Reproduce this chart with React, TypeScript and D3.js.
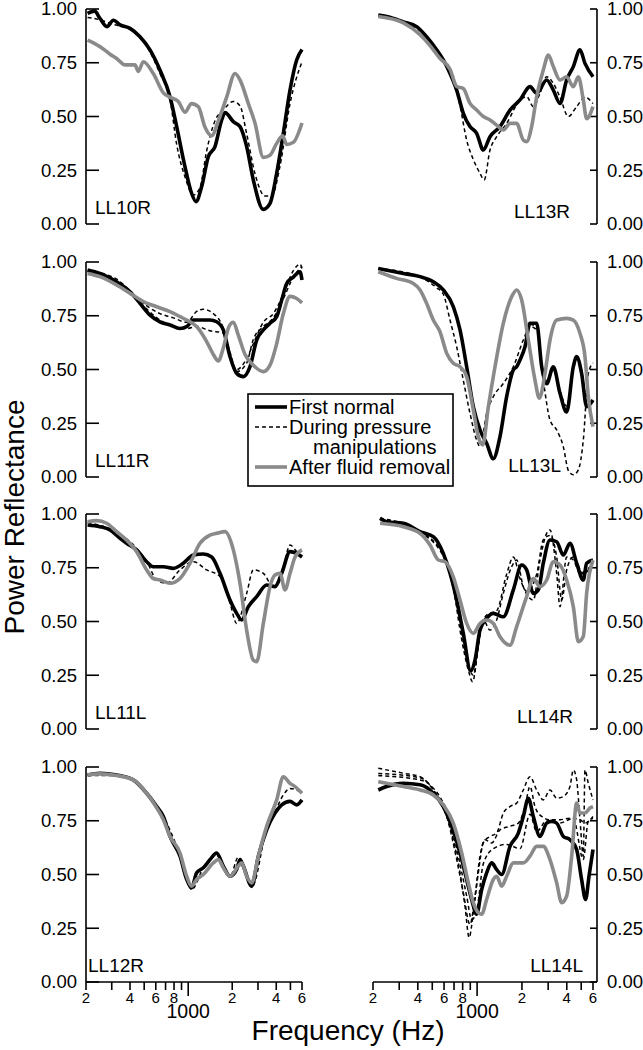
import React from "react";
import * as d3 from "d3";

type P = [number, number];

// ---------- axis ticks ----------
const FREQ_TICKS = [200, 300, 400, 500, 600, 700, 800, 900, 1000, 2000, 3000, 4000, 5000, 6000];
const FREQ_TICK_LABELS = ["2", "", "4", "", "6", "", "8", "", "", "2", "", "4", "", "6"];
const Y_TICKS = [0, 0.25, 0.5, 0.75, 1];
const Y_TICK_LABELS = ["0.00", "0.25", "0.50", "0.75", "1.00"];

// ---------- data: [frequency Hz, power reflectance] ----------
const LL10R_first: P[] = [[205,0.98],[229,0.99],[249,0.957],[278,0.918],[308,0.948],[342,0.926],[400,0.91],[468,0.871],[548,0.81],[641,0.716],[751,0.592],[834,0.453],[950,0.267],[1055,0.143],[1130,0.104],[1236,0.174],[1372,0.313],[1525,0.36],[1694,0.484],[1785,0.518],[2035,0.476],[2260,0.453],[2510,0.36],[2788,0.205],[3264,0.068],[3626,0.096],[4027,0.236],[4473,0.422],[4968,0.623],[5518,0.763],[6000,0.812]];
const LL10R_during: P[] = [[205,0.96],[249,0.95],[300,0.93],[400,0.905],[548,0.8],[641,0.7],[751,0.58],[834,0.37],[950,0.22],[1084,0.135],[1204,0.17],[1337,0.34],[1525,0.48],[1738,0.53],[2035,0.57],[2260,0.55],[2510,0.42],[2860,0.235],[3350,0.13],[3720,0.13],[4244,0.27],[4968,0.56],[6000,0.755]];
const LL10R_after: P[] = [[205,0.855],[249,0.825],[292,0.79],[324,0.77],[370,0.74],[432,0.74],[456,0.71],[493,0.755],[577,0.7],[676,0.61],[751,0.59],[856,0.57],[950,0.52],[1055,0.56],[1173,0.545],[1303,0.45],[1447,0.41],[1607,0.48],[1832,0.59],[2090,0.7],[2260,0.67],[2578,0.56],[2860,0.47],[3264,0.31],[3626,0.32],[4027,0.375],[4425,0.41],[4714,0.37],[5236,0.38],[6000,0.47]];

const LL13R_first: P[] = [[217,0.972],[247,0.965],[320,0.94],[393,0.918],[458,0.871],[535,0.81],[593,0.763],[658,0.7],[729,0.623],[808,0.515],[896,0.453],[993,0.422],[1101,0.344],[1221,0.406],[1425,0.453],[1663,0.53],[1941,0.577],[2265,0.639],[2511,0.608],[2931,0.67],[3249,0.623],[3602,0.561],[3993,0.67],[4426,0.732],[4906,0.81],[5300,0.747],[6000,0.685]];
const LL13R_during: P[] = [[217,0.97],[247,0.96],[320,0.935],[393,0.91],[458,0.87],[535,0.8],[593,0.76],[658,0.7],[729,0.62],[768,0.55],[851,0.39],[943,0.3],[1046,0.236],[1115,0.205],[1221,0.344],[1353,0.406],[1579,0.468],[1941,0.577],[2151,0.592],[2385,0.546],[2644,0.608],[2931,0.685],[3249,0.654],[3602,0.59],[4100,0.5],[4660,0.546],[5300,0.59],[6000,0.56]];
const LL13R_after: P[] = [[217,0.965],[320,0.935],[414,0.88],[483,0.83],[563,0.77],[658,0.72],[729,0.64],[808,0.63],[896,0.561],[993,0.53],[1101,0.5],[1221,0.484],[1353,0.46],[1500,0.437],[1663,0.468],[1843,0.468],[2043,0.39],[2151,0.383],[2324,0.453],[2511,0.592],[2783,0.716],[3010,0.786],[3249,0.732],[3602,0.67],[3993,0.685],[4426,0.639],[4783,0.685],[5165,0.577],[5438,0.49],[6000,0.546]];

const LL11R_first: P[] = [[205,0.963],[249,0.947],[324,0.908],[400,0.862],[468,0.808],[548,0.753],[641,0.722],[751,0.707],[879,0.691],[976,0.699],[1084,0.73],[1204,0.73],[1409,0.73],[1565,0.722],[1738,0.684],[1931,0.56],[2145,0.482],[2382,0.467],[2646,0.513],[2939,0.637],[3264,0.684],[3626,0.715],[4027,0.746],[4360,0.823],[4714,0.9],[5236,0.93],[5815,0.955],[6000,0.916]];
const LL11R_during: P[] = [[205,0.96],[324,0.92],[468,0.82],[641,0.76],[791,0.74],[976,0.72],[1142,0.77],[1269,0.78],[1485,0.76],[1738,0.69],[1931,0.56],[2145,0.5],[2510,0.55],[2788,0.62],[3264,0.72],[3821,0.76],[4473,0.85],[5236,0.96],[5815,0.99],[6000,0.97]];
const LL11R_during2: P[] = [[205,0.955],[324,0.91],[468,0.81],[641,0.73],[791,0.7],[976,0.69],[1142,0.7],[1409,0.68],[1738,0.67],[1931,0.58],[2145,0.49],[2510,0.53],[2788,0.64],[3264,0.7],[3821,0.74],[4473,0.83],[5236,0.93],[6000,0.98]];
const LL11R_after: P[] = [[205,0.947],[249,0.932],[324,0.893],[400,0.854],[493,0.816],[609,0.792],[751,0.769],[879,0.746],[976,0.73],[1142,0.7],[1337,0.63],[1485,0.57],[1607,0.54],[1738,0.6],[1900,0.7],[2035,0.72],[2200,0.66],[2446,0.57],[2788,0.52],[3264,0.49],[3626,0.52],[4027,0.62],[4473,0.76],[4968,0.84],[5518,0.83],[6000,0.81]];

const LL13L_first: P[] = [[217,0.97],[320,0.947],[414,0.932],[508,0.908],[593,0.87],[692,0.792],[768,0.684],[851,0.513],[943,0.327],[1046,0.219],[1159,0.157],[1285,0.085],[1425,0.188],[1579,0.374],[1751,0.498],[1843,0.513],[1941,0.544],[2097,0.606],[2265,0.715],[2511,0.715],[2714,0.513],[2931,0.434],[3249,0.513],[3602,0.389],[3993,0.302],[4426,0.513],[4660,0.56],[5030,0.482],[5438,0.327],[6000,0.358]];
const LL13L_during: P[] = [[217,0.97],[414,0.93],[535,0.88],[593,0.85],[658,0.73],[729,0.606],[808,0.45],[896,0.296],[993,0.172],[1046,0.141],[1159,0.296],[1285,0.374],[1500,0.435],[1751,0.513],[2043,0.637],[2265,0.7],[2511,0.684],[2783,0.45],[3086,0.265],[3421,0.219],[3793,0.14],[4100,0.03],[4426,0.01],[4783,0.033],[5165,0.172],[5580,0.48],[6000,0.53]];
const LL13L_during2: P[] = [[2265,0.71],[2511,0.7],[2714,0.5],[2931,0.45],[3249,0.5],[3602,0.4],[3993,0.33],[4426,0.5],[4660,0.55],[5030,0.5],[5438,0.35],[6000,0.34]];
const LL13L_after: P[] = [[217,0.955],[288,0.924],[373,0.9],[414,0.87],[458,0.808],[508,0.73],[563,0.676],[625,0.575],[692,0.529],[768,0.513],[851,0.467],[943,0.312],[1019,0.188],[1090,0.149],[1190,0.327],[1319,0.513],[1500,0.715],[1707,0.839],[1843,0.87],[1992,0.823],[2208,0.637],[2447,0.451],[2617,0.366],[2857,0.482],[3086,0.637],[3421,0.73],[3993,0.738],[4426,0.73],[4906,0.668],[5300,0.56],[5580,0.374],[6000,0.234]];

const LL11L_first: P[] = [[205,0.949],[249,0.941],[292,0.926],[342,0.887],[379,0.864],[444,0.833],[520,0.778],[577,0.755],[676,0.755],[791,0.747],[926,0.771],[1084,0.809],[1269,0.814],[1447,0.8],[1650,0.724],[1931,0.6],[2145,0.538],[2320,0.507],[2578,0.569],[2939,0.616],[3440,0.67],[3923,0.662],[4360,0.724],[4968,0.825],[5518,0.817],[6000,0.8]];
const LL11L_during: P[] = [[205,0.96],[292,0.93],[444,0.84],[520,0.78],[609,0.693],[712,0.678],[879,0.74],[1084,0.778],[1337,0.74],[1650,0.709],[1931,0.585],[2145,0.491],[2510,0.63],[2788,0.74],[3264,0.724],[3821,0.662],[4473,0.755],[4968,0.856],[5518,0.825],[6000,0.8]];
const LL11L_after: P[] = [[205,0.964],[237,0.969],[277,0.957],[324,0.918],[379,0.879],[444,0.825],[520,0.74],[577,0.7],[641,0.693],[751,0.678],[879,0.7],[1029,0.771],[1204,0.864],[1409,0.902],[1565,0.91],[1785,0.918],[2035,0.833],[2260,0.678],[2510,0.46],[2788,0.32],[2939,0.313],[3264,0.491],[3626,0.662],[3923,0.716],[4244,0.724],[4593,0.647],[4968,0.724],[5380,0.8],[6000,0.833]];

const LL14R_first: P[] = [[223,0.98],[247,0.964],[320,0.957],[414,0.918],[508,0.895],[593,0.817],[658,0.724],[729,0.6],[808,0.445],[905,0.27],[968,0.32],[1046,0.46],[1159,0.515],[1285,0.538],[1500,0.522],[1751,0.647],[1992,0.763],[2151,0.74],[2385,0.631],[2578,0.647],[2783,0.771],[3086,0.879],[3421,0.871],[3793,0.809],[4204,0.864],[4660,0.771],[5165,0.693],[5438,0.771],[6000,0.786]];
const LL14R_during: P[] = [[223,0.98],[414,0.92],[625,0.78],[692,0.662],[768,0.46],[873,0.274],[933,0.22],[1019,0.383],[1101,0.507],[1221,0.46],[1353,0.507],[1500,0.631],[1707,0.755],[1843,0.786],[2043,0.662],[2385,0.6],[2644,0.786],[2931,0.91],[3086,0.926],[3421,0.724],[3602,0.569],[3993,0.8],[4426,0.786],[4906,0.724],[5438,0.74],[6000,0.77]];
const LL14R_during2: P[] = [[223,0.975],[414,0.915],[625,0.77],[729,0.58],[851,0.33],[943,0.25],[1046,0.45],[1159,0.53],[1353,0.55],[1579,0.72],[1751,0.8],[1941,0.7],[2151,0.64],[2511,0.72],[2783,0.88],[3086,0.9],[3421,0.8],[3700,0.6],[3993,0.74],[4426,0.8],[5165,0.72],[6000,0.78]];
const LL14R_after: P[] = [[223,0.957],[320,0.941],[414,0.91],[483,0.856],[549,0.786],[609,0.778],[692,0.708],[768,0.6],[851,0.491],[943,0.445],[1046,0.491],[1159,0.507],[1285,0.491],[1425,0.429],[1663,0.39],[1843,0.476],[2151,0.616],[2385,0.7],[2644,0.662],[2931,0.693],[3249,0.778],[3602,0.763],[3993,0.693],[4426,0.569],[4783,0.406],[5165,0.43],[5438,0.631],[6000,0.786]];

const LL12R_first: P[] = [[205,0.963],[249,0.971],[324,0.963],[421,0.94],[520,0.878],[609,0.816],[676,0.77],[751,0.677],[879,0.585],[976,0.477],[1055,0.438],[1142,0.508],[1269,0.531],[1409,0.569],[1565,0.6],[1738,0.539],[1931,0.492],[2145,0.523],[2260,0.569],[2382,0.539],[2717,0.446],[3018,0.585],[3440,0.708],[3923,0.786],[4360,0.824],[4968,0.84],[5518,0.824],[6000,0.847]];
const LL12R_during: P[] = [[205,0.96],[324,0.96],[421,0.94],[520,0.875],[676,0.77],[879,0.59],[1055,0.43],[1269,0.53],[1565,0.59],[1931,0.49],[2200,0.58],[2382,0.55],[2717,0.44],[3440,0.71],[3923,0.79],[4473,0.87],[4968,0.9],[6000,0.88]];
const LL12R_after: P[] = [[205,0.963],[249,0.968],[324,0.96],[421,0.94],[520,0.878],[609,0.81],[676,0.755],[751,0.677],[879,0.6],[976,0.492],[1055,0.446],[1142,0.477],[1269,0.5],[1485,0.554],[1607,0.57],[1738,0.531],[1931,0.492],[2200,0.539],[2320,0.554],[2510,0.492],[2717,0.461],[3018,0.585],[3440,0.724],[4027,0.847],[4473,0.955],[4968,0.924],[5380,0.909],[6000,0.878]];

const LL14L_first: P[] = [[217,0.893],[247,0.909],[320,0.924],[414,0.917],[508,0.878],[593,0.816],[675,0.724],[768,0.6],[851,0.477],[919,0.384],[993,0.315],[1073,0.43],[1159,0.508],[1253,0.554],[1353,0.523],[1462,0.5],[1663,0.631],[1892,0.693],[2043,0.77],[2208,0.855],[2385,0.77],[2644,0.677],[2931,0.739],[3167,0.747],[3421,0.739],[3793,0.677],[4204,0.662],[4660,0.616],[5030,0.477],[5350,0.384],[5640,0.492],[6000,0.616]];
const LL14L_during: P[] = [[217,0.994],[320,0.971],[414,0.955],[508,0.893],[593,0.816],[692,0.662],[768,0.508],[829,0.353],[884,0.207],[943,0.322],[1019,0.508],[1101,0.647],[1221,0.677],[1353,0.693],[1500,0.786],[1663,0.816],[1843,0.832],[2043,0.893],[2265,0.955],[2511,0.893],[2783,0.847],[3086,0.893],[3421,0.855],[3793,0.863],[4204,0.909],[4426,0.986],[4660,0.94],[4906,0.755],[5165,0.585],[5300,0.986],[5580,0.924],[6000,0.847]];
const LL14L_during2: P[] = [[217,0.97],[414,0.95],[535,0.87],[625,0.77],[729,0.57],[808,0.415],[896,0.268],[968,0.4],[1046,0.585],[1130,0.662],[1253,0.647],[1425,0.708],[1663,0.724],[1892,0.739],[2097,0.816],[2265,0.909],[2447,0.816],[2714,0.77],[3086,0.755],[3602,0.755],[4204,0.762],[4906,0.755],[5300,0.739],[6000,0.77]];
const LL14L_during3: P[] = [[217,0.96],[414,0.94],[625,0.8],[729,0.62],[851,0.4],[919,0.29],[993,0.33],[1101,0.55],[1285,0.62],[1579,0.64],[1941,0.62],[2265,0.78],[2511,0.7],[2931,0.75],[3602,0.74],[4426,0.76],[5165,0.57],[5580,0.75],[6000,0.76]];
const LL14L_after: P[] = [[217,0.932],[320,0.909],[414,0.893],[508,0.87],[593,0.824],[692,0.739],[788,0.6],[873,0.461],[943,0.369],[1019,0.322],[1073,0.315],[1159,0.384],[1285,0.477],[1353,0.492],[1462,0.446],[1579,0.492],[1751,0.554],[2043,0.554],[2265,0.585],[2511,0.631],[2783,0.631],[3086,0.569],[3421,0.461],[3697,0.369],[3993,0.4],[4315,0.585],[4660,0.832],[4906,0.786],[5300,0.786],[5726,0.809],[6000,0.816]];

const LEGEND_LABELS = ["First normal", "During pressure", "manipulations", "After fluid removal"];

// ---------- layout ----------
const W = 643;
const H = 1050;
const ROW_TOPS = [9, 262, 514, 767];
const ROW_H = 215;
const COLS = [
  { x0: 86, x1: 302, axisX: 86 },
  { x0: 373, x1: 593, axisX: 597 },
];
const FONT = "'Liberation Sans', Arial, Helvetica, sans-serif";
const GRAY = "#8a8a8a";

interface Panel {
  name: string;
  col: number;
  row: number;
  first: P[];
  during: P[][];
  after: P[];
  labelX: number;
  labelDy: number;
}

const PANELS: Panel[] = [
  { name: "LL10R", col: 0, row: 0, first: LL10R_first, during: [LL10R_during], after: LL10R_after, labelX: 95, labelDy: 10 },
  { name: "LL13R", col: 1, row: 0, first: LL13R_first, during: [LL13R_during], after: LL13R_after, labelX: 570, labelDy: 6 },
  { name: "LL11R", col: 0, row: 1, first: LL11R_first, during: [LL11R_during, LL11R_during2], after: LL11R_after, labelX: 95, labelDy: 10 },
  { name: "LL13L", col: 1, row: 1, first: LL13L_first, during: [LL13L_during, LL13L_during2], after: LL13L_after, labelX: 561, labelDy: 5 },
  { name: "LL11L", col: 0, row: 2, first: LL11L_first, during: [LL11L_during], after: LL11L_after, labelX: 95, labelDy: 10 },
  { name: "LL14R", col: 1, row: 2, first: LL14R_first, during: [LL14R_during, LL14R_during2], after: LL14R_after, labelX: 573, labelDy: 6 },
  { name: "LL12R", col: 0, row: 3, first: LL12R_first, during: [LL12R_during], after: LL12R_after, labelX: 88, labelDy: 10 },
  { name: "LL14L", col: 1, row: 3, first: LL14L_first, during: [LL14L_during, LL14L_during2, LL14L_during3], after: LL14L_after, labelX: 583, labelDy: 10 },
];

function PanelView({ p }: { p: Panel }) {
  const c = COLS[p.col];
  const top = ROW_TOPS[p.row];
  const bottom = top + ROW_H;
  const x = d3.scaleLog().domain([200, 6000]).range([c.x0, c.x1]);
  const y = d3.scaleLinear().domain([0, 1]).range([bottom, top]);
  const line = d3
    .line<P>()
    .x((d) => x(d[0]))
    .y((d) => y(d[1]))
    .curve(d3.curveMonotoneX);
  const isLeft = p.col === 0;
  const tickLen = isLeft ? 13 : 7;
  const isBottom = p.row === 3;
  return (
    <g>
      {/* y axis */}
      <line x1={c.axisX} x2={c.axisX} y1={top} y2={bottom} stroke="#000" strokeWidth={1.6} />
      {Y_TICKS.map((t, i) => (
        <g key={i}>
          <line
            x1={c.axisX}
            x2={isLeft ? c.axisX + tickLen : c.axisX - tickLen}
            y1={y(t)}
            y2={y(t)}
            stroke="#000"
            strokeWidth={1.6}
          />
          <text
            x={isLeft ? 77 : 607}
            y={y(t)}
            dy="0.35em"
            textAnchor={isLeft ? "end" : "start"}
            fontSize={18.5}
            fontFamily={FONT}
          >
            {Y_TICK_LABELS[i]}
          </text>
        </g>
      ))}
      {/* x axis (bottom row only) */}
      {isBottom && (
        <g>
          <line x1={c.x0} x2={isLeft ? c.x1 : c.axisX} y1={bottom} y2={bottom} stroke="#000" strokeWidth={1.6} />
          {FREQ_TICKS.map((f, i) => (
            <g key={i}>
              <line
                x1={x(f)}
                x2={x(f)}
                y1={bottom}
                y2={bottom + (f === 1000 ? 14 : 8)}
                stroke="#000"
                strokeWidth={1.6}
              />
              {FREQ_TICK_LABELS[i] && (
                <text x={x(f)} y={bottom + 21} textAnchor="middle" fontSize={15} fontFamily={FONT}>
                  {FREQ_TICK_LABELS[i]}
                </text>
              )}
            </g>
          ))}
          <text x={x(1000)} y={bottom + 36} textAnchor="middle" fontSize={19.5} fontFamily={FONT}>
            1000
          </text>
        </g>
      )}
      {/* series */}
      <path d={line(p.first) || ""} fill="none" stroke="#000" strokeWidth={3.6} strokeLinejoin="round" />
      {p.during.map((s, i) => (
        <path key={i} d={line(s) || ""} fill="none" stroke="#000" strokeWidth={1.5} strokeDasharray="4,3" />
      ))}
      <path d={line(p.after) || ""} fill="none" stroke={GRAY} strokeWidth={3.6} strokeLinejoin="round" />
      <text
        x={p.labelX}
        y={bottom - p.labelDy}
        textAnchor={isLeft ? "start" : "end"}
        fontSize={19}
        fontFamily={FONT}
      >
        {p.name}
      </text>
    </g>
  );
}

export default function App() {
  const lx = 248;
  const ly = 394;
  const lw = 205;
  const lh = 92;
  const rowY = [407, 427, 447, 467];
  return (
    <div style={{ position: "absolute", left: 0, top: 0 }}>
      <svg width={W} height={H} viewBox={`0 0 ${W} ${H}`} style={{ display: "block", background: "#fff" }}>
        <rect x={0} y={0} width={W} height={H} fill="#fff" />
        {PANELS.map((p) => (
          <PanelView key={p.name} p={p} />
        ))}
        {/* legend */}
        <rect x={lx} y={ly} width={lw} height={lh} fill="#fff" stroke="#000" strokeWidth={1.6} />
        <line x1={255} x2={287} y1={rowY[0]} y2={rowY[0]} stroke="#000" strokeWidth={3.6} />
        <line x1={255} x2={287} y1={rowY[1]} y2={rowY[1]} stroke="#000" strokeWidth={1.5} strokeDasharray="4,3" />
        <line x1={255} x2={287} y1={rowY[3]} y2={rowY[3]} stroke={GRAY} strokeWidth={3.6} />
        <text x={289} y={rowY[0]} dy="0.35em" fontSize={20} fontFamily={FONT}>{LEGEND_LABELS[0]}</text>
        <text x={289} y={rowY[1]} dy="0.35em" fontSize={20} fontFamily={FONT}>{LEGEND_LABELS[1]}</text>
        <text x={313} y={rowY[2]} dy="0.35em" fontSize={20} fontFamily={FONT}>{LEGEND_LABELS[2]}</text>
        <text x={289} y={rowY[3]} dy="0.35em" fontSize={20} fontFamily={FONT}>{LEGEND_LABELS[3]}</text>
        {/* axis titles */}
        <text
          transform="translate(24,517) rotate(-90)"
          textAnchor="middle"
          fontSize={28}
          fontFamily={FONT}
        >
          Power Reflectance
        </text>
        <text x={348} y={1040} textAnchor="middle" fontSize={28} fontFamily={FONT}>
          Frequency (Hz)
        </text>
      </svg>
    </div>
  );
}
